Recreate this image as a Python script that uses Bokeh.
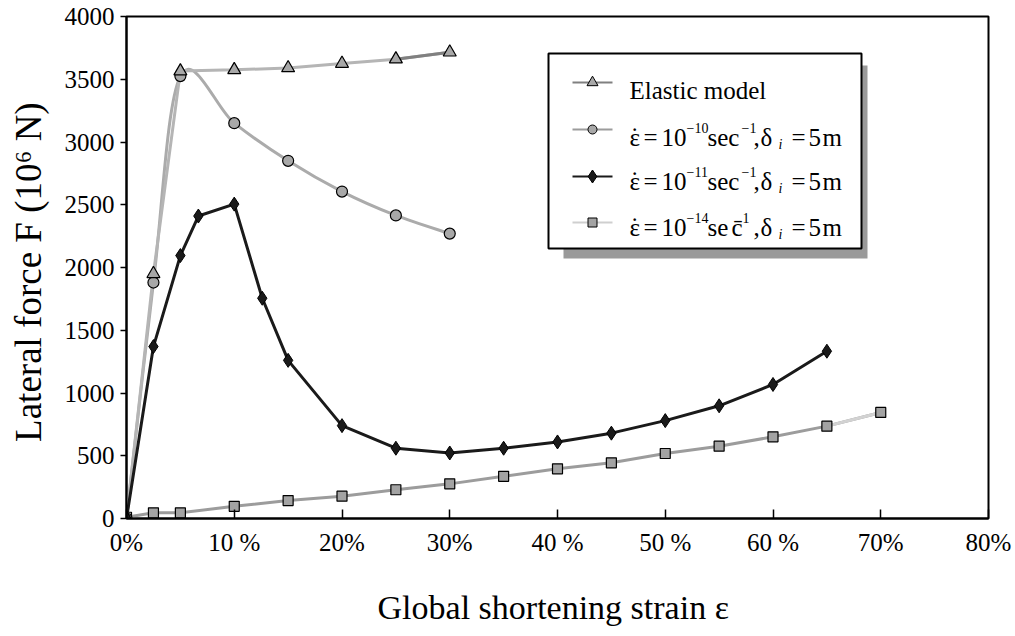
from bokeh.plotting import figure
from bokeh.models import Range1d, FixedTicker, ColumnDataSource
from bokeh.core.properties import value
from bokeh.embed import file_html
from bokeh.resources import INLINE

# ---------------- data ----------------
strain_elastic = [0, 2.5, 5, 10, 15, 20, 25, 30]
force_elastic = [0, 1950, 3565, 3575, 3590, 3625, 3660, 3715]

strain_e10 = [0, 2.5, 5, 10, 15, 20, 25, 30]
force_e10 = [0, 1880, 3525, 3150, 2850, 2605, 2415, 2270]

strain_e11 = [0, 2.5, 5, 6.67, 10, 12.6, 15, 20, 25, 30, 35, 40, 45, 50, 55, 60, 65]
force_e11 = [0, 1370, 2095, 2410, 2505, 1755, 1260, 740, 560, 522, 560, 610, 680, 780, 898, 1068, 1333]

strain_e14 = [0, 2.5, 5, 10, 15, 20, 25, 30, 35, 40, 45, 50, 55, 60, 65, 70]
force_e14 = [10, 45, 45, 97, 143, 178, 229, 276, 336, 396, 444, 518, 576, 651, 736, 845]

x_ticks = [0, 10, 20, 30, 40, 50, 60, 70, 80]
x_tick_labels = ["0%", "10 %", "20%", "30%", "40 %", "50 %", "60 %", "70%", "80%"]
y_ticks = [0, 500, 1000, 1500, 2000, 2500, 3000, 3500, 4000]

x_title = "Global shortening strain  \u03b5"
y_title = "Lateral force F  (10\u2076 N)"

FONT = "Liberation Serif"

# frame in pixels (for placing the legend box)
W, H = 1015, 636
FL, FR, FT, FB = 126, 988, 16, 518
XMAX, YMAX = 80, 4000


def dx(px):
    return (px - FL) / (FR - FL) * XMAX


def dy(py):
    return (FB - py) / (FB - FT) * YMAX


p = figure(width=W, height=H, output_backend="svg", toolbar_location=None,
           x_range=Range1d(0, XMAX), y_range=Range1d(0, YMAX),
           min_border_left=FL, min_border_right=W - FR,
           min_border_top=FT, min_border_bottom=H - FB)
p.grid.visible = False
p.outline_line_color = "black"
p.outline_line_width = 2
p.background_fill_color = "white"
p.border_fill_color = "white"

p.xaxis.ticker = FixedTicker(ticks=x_ticks)
p.xaxis.major_label_overrides = {t: l for t, l in zip(x_ticks, x_tick_labels)}
p.yaxis.ticker = FixedTicker(ticks=y_ticks)
for ax in (p.xaxis, p.yaxis):
    ax.axis_line_width = 2
    ax.axis_line_color = "black"
    ax.major_tick_line_width = 1.5
    ax.major_tick_line_color = "black"
    ax.minor_tick_line_color = None
    ax.major_label_text_font = FONT
    ax.major_label_text_font_size = "25px"
    ax.major_label_text_color = "black"
    ax.axis_label_text_font = FONT
    ax.axis_label_text_font_style = "normal"
    ax.axis_label_text_color = "black"
p.xaxis.major_tick_in = 9
p.xaxis.major_tick_out = 0
p.xaxis.major_label_standoff = 10
p.yaxis.major_tick_in = 0
p.yaxis.major_tick_out = 6
p.yaxis.major_label_standoff = 6

p.xaxis.axis_label = x_title
p.xaxis.axis_label_text_font_size = "34px"
p.xaxis.axis_label_standoff = 30
p.yaxis.axis_label = y_title
p.yaxis.axis_label_text_font_size = "37px"
p.yaxis.axis_label_standoff = 13


def smooth_segments(xs, ys):
    n = len(xs)
    out = dict(x0=[], y0=[], x1=[], y1=[], cx0=[], cy0=[], cx1=[], cy1=[])
    for i in range(n - 1):
        a = i - 1 if i > 0 else i
        b = i + 2 if i + 2 < n else i + 1
        out["x0"].append(xs[i]); out["y0"].append(ys[i])
        out["x1"].append(xs[i + 1]); out["y1"].append(ys[i + 1])
        out["cx0"].append(xs[i] + (xs[i + 1] - xs[a]) / 6)
        out["cy0"].append(ys[i] + (ys[i + 1] - ys[a]) / 6)
        out["cx1"].append(xs[i + 1] - (xs[b] - xs[i]) / 6)
        out["cy1"].append(ys[i + 1] - (ys[b] - ys[i]) / 6)
    return out


# square series (10^-14)
p.line(strain_e14, force_e14, line_color="#9c9c9c", line_width=3)
p.line(strain_e14[-2:], force_e14[-2:], line_color="#d2d2d2", line_width=3)

# circle series (10^-10), smoothed line
seg = smooth_segments(strain_e10, force_e10)
p.bezier(x0="x0", y0="y0", x1="x1", y1="y1", cx0="cx0", cy0="cy0", cx1="cx1", cy1="cy1",
         source=ColumnDataSource(seg), line_color="#ababab", line_width=3)

# elastic
p.line(strain_elastic, force_elastic, line_color="#b5b5b5", line_width=3)
p.line(strain_elastic[-2:], force_elastic[-2:], line_color="#808080", line_width=3)

# diamond series (10^-11)
p.line(strain_e11, force_e11, line_color="#1a1a1a", line_width=3)

# markers
p.scatter(strain_e14, force_e14, marker="square", size=10, fill_color="#a3a3a3",
          line_color="black", line_width=1.2)
p.scatter(strain_e10, force_e10, marker="circle", size=11, fill_color="#a8a8a8",
          line_color="black", line_width=1.2)
p.scatter(strain_elastic, force_elastic, marker="triangle", size=13, fill_color="#a8a8a8",
          line_color="black", line_width=1.2)
p.scatter(strain_e11, force_e11, marker="diamond", size=14, fill_color="#1a1a1a",
          line_color="black", line_width=1)

# ---------------- legend box ----------------
p.quad(left=[dx(563)], right=[dx(867)], top=[dy(65)], bottom=[dy(258)],
       fill_color="#9a9a9a", line_color=None)
p.quad(left=[dx(548)], right=[dx(861)], top=[dy(53)], bottom=[dy(248)],
       fill_color="white", line_color="black", line_width=2)

leg_rows = [82, 129, 176, 222]
leg_line_colors = ["#808080", "#9c9c9c", "#1a1a1a", "#cfcfcf"]
leg_markers = ["triangle", "circle", "diamond", "square"]
leg_sizes = [11, 9, 13, 9]
leg_fills = ["#a8a8a8", "#a8a8a8", "#1a1a1a", "#a3a3a3"]
for r, lc, mk, sz, fc in zip(leg_rows, leg_line_colors, leg_markers, leg_sizes, leg_fills):
    p.line([dx(572), dx(612)], [dy(r), dy(r)], line_color=lc, line_width=2)
    p.scatter([dx(592)], [dy(r)], marker=mk, size=sz, fill_color=fc,
              line_color="black", line_width=1)

pieces = []  # (px, py, text, size, style)
pieces.append((629, 90, "Elastic  model", 25, "normal"))
bases = [137, 181, 227]
exps = ["\u221210", "\u221211", "\u221214"]
for k, (b, e) in enumerate(zip(bases, exps)):
    pieces.append((629, b, "\u03b5", 25, "normal"))
    pieces.append((630, b - 1, "\u02d9", 25, "normal"))
    pieces.append((643, b, "=", 25, "normal"))
    pieces.append((661, b, "10", 25, "normal"))
    pieces.append((686, b - 10, e, 14, "normal"))
    if k < 2:
        pieces.append((707, b, "sec", 25, "normal"))
        pieces.append((741, b - 10, "\u22121", 14, "normal"))
    else:
        pieces.append((707, b, "se", 25, "normal"))
        pieces.append((731, b, "c\u0304", 25, "normal"))
        pieces.append((742, b - 10, "1", 14, "normal"))
    pieces.append((753, b, ",", 25, "normal"))
    pieces.append((760, b, "\u03b4", 25, "normal"))
    pieces.append((778, b + 7, "i", 14, "italic"))
    pieces.append((791, b, "=", 25, "normal"))
    pieces.append((808, b, "5", 25, "normal"))
    pieces.append((822, b, "m", 25, "normal"))

src = ColumnDataSource(dict(
    x=[dx(a[0]) for a in pieces], y=[dy(a[1]) for a in pieces],
    text=[a[2] for a in pieces], size=["%dpx" % a[3] for a in pieces],
    style=[a[4] for a in pieces]))
p.text(x="x", y="y", text="text", source=src, text_font=value(FONT),
       text_font_size="size", text_font_style="style", text_color="black",
       text_align="left", text_baseline="alphabetic")

open("out.html", "w").write(file_html(p, INLINE))
